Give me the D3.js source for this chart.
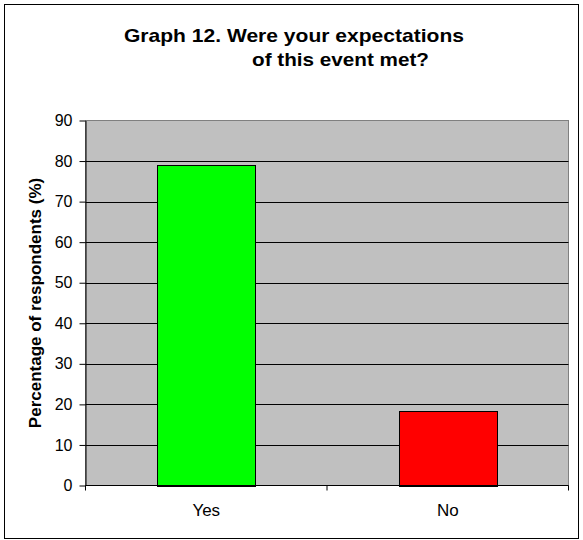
<!DOCTYPE html>
<html>
<head>
<meta charset="utf-8">
<script src="https://cdn.jsdelivr.net/npm/d3@7"></script>
<style>
  body { margin: 0; background: #fff; }
  svg text { font-family: "Liberation Sans", Arial, sans-serif; }
</style>
</head>
<body>
<div id="chart"></div>
<script>
var categories = ["Yes", "No"];
var values = [79, 18.4];
var barColors = ["#00ff00", "#ff0000"];
var yTicks = [0, 10, 20, 30, 40, 50, 60, 70, 80, 90];

var width = 583, height = 540;
var plot = { left: 85.5, right: 568.5, top: 120.5, bottom: 485.5 };

var svg = d3.select("#chart")
    .append("svg")
    .attr("width", width)
    .attr("height", height);

// outer frame
svg.append("rect")
    .attr("x", 4.5)
    .attr("y", 4.5)
    .attr("width", 574)
    .attr("height", 534)
    .attr("fill", "#fff")
    .attr("stroke", "#000")
    .attr("stroke-width", 1);

var x = d3.scaleBand()
    .domain(categories)
    .range([plot.left, plot.right])
    .paddingInner(0.594)
    .paddingOuter(0.297);

var y = d3.scaleLinear()
    .domain([0, 90])
    .range([plot.bottom, plot.top]);

// plot background
svg.append("rect")
    .attr("x", plot.left)
    .attr("y", plot.top)
    .attr("width", plot.right - plot.left)
    .attr("height", plot.bottom - plot.top)
    .attr("fill", "#c0c0c0")
    .attr("stroke", "#808080")
    .attr("stroke-width", 1);

// gridlines
svg.append("g")
    .selectAll("line")
    .data(yTicks.filter(function(d) { return d > 0 && d < 90; }))
    .enter().append("line")
    .attr("x1", plot.left)
    .attr("x2", plot.right)
    .attr("y1", function(d) { return Math.round(y(d)) + 0.5; })
    .attr("y2", function(d) { return Math.round(y(d)) + 0.5; })
    .attr("stroke", "#000")
    .attr("stroke-width", 1);

// bars
svg.append("g")
    .selectAll("rect")
    .data(values)
    .enter().append("rect")
    .attr("x", function(d, i) { return Math.round(x(categories[i])) + 0.5; })
    .attr("y", function(d) { return Math.round(y(d)) + 0.5; })
    .attr("width", Math.round(x.bandwidth()))
    .attr("height", function(d) { return Math.round(y(0)) - Math.round(y(d)); })
    .attr("fill", function(d, i) { return barColors[i]; })
    .attr("stroke", "#000")
    .attr("stroke-width", 1);

// y axis
var yAxis = svg.append("g")
    .attr("transform", "translate(" + plot.left + ",0)")
    .call(d3.axisLeft(y).tickValues(yTicks).tickSize(6).tickSizeOuter(0));
yAxis.select(".domain").attr("stroke", "#000");
yAxis.selectAll(".tick line").attr("stroke", "#000");
yAxis.selectAll("text")
    .attr("font-size", 16)
    .attr("fill", "#000")
    .attr("x", -13);

// x axis: ticks at category boundaries
var xAxisG = svg.append("g")
    .attr("transform", "translate(0," + plot.bottom + ")");
xAxisG.append("line")
    .attr("x1", plot.left)
    .attr("x2", plot.right)
    .attr("stroke", "#000");
var bounds = [plot.left, plot.left + (plot.right - plot.left) / 2, plot.right];
xAxisG.selectAll("line.tk")
    .data(bounds)
    .enter().append("line")
    .attr("class", "tk")
    .attr("x1", function(d) { return d; })
    .attr("x2", function(d) { return d; })
    .attr("y1", 0)
    .attr("y2", 5)
    .attr("stroke", "#000");
xAxisG.selectAll("text")
    .data(categories)
    .enter().append("text")
    .attr("x", function(d) { return x(d) + x.bandwidth() / 2; })
    .attr("y", 30)
    .attr("text-anchor", "middle")
    .attr("font-size", 17)
    .text(function(d) { return d; });

// y axis title
svg.append("text")
    .attr("transform", "translate(40.5," + (plot.top + plot.bottom) / 2 + ") rotate(-90)")
    .attr("text-anchor", "middle")
    .attr("font-size", 17)
    .attr("font-weight", "bold")
    .text("Percentage of respondents (%)");

// title
svg.append("text")
    .attr("x", 124)
    .attr("y", 41.5)
    .attr("font-size", 19)
    .attr("font-weight", "bold")
    .attr("textLength", 340)
    .attr("lengthAdjust", "spacingAndGlyphs")
    .text("Graph 12. Were your expectations");
svg.append("text")
    .attr("x", 252)
    .attr("y", 65.5)
    .attr("font-size", 19)
    .attr("font-weight", "bold")
    .attr("textLength", 177)
    .attr("lengthAdjust", "spacingAndGlyphs")
    .text("of this event met?");
</script>
</body>
</html>
